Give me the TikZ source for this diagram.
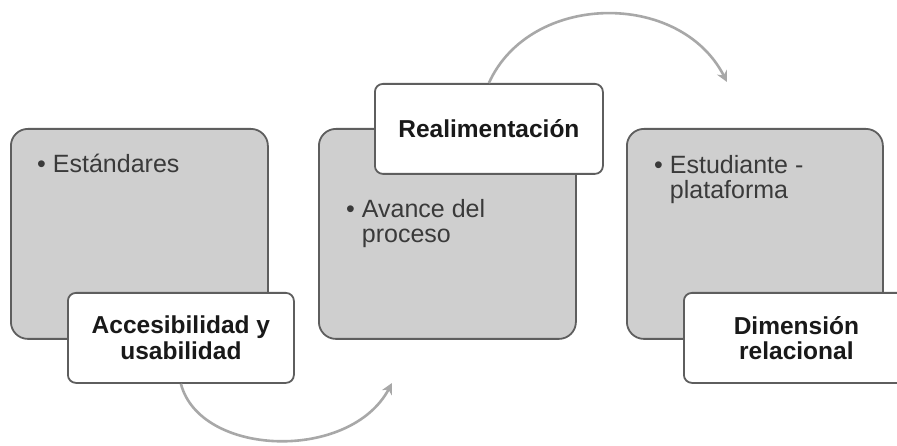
\documentclass[tikz,border=0pt]{standalone}
\usepackage{fontspec}
\setmainfont{Liberation Sans}
\usetikzlibrary{arrows.meta}
\definecolor{boxgray}{HTML}{CFCFCF}
\definecolor{edgegray}{HTML}{5E5E5E}
\definecolor{arcgray}{HTML}{A8A8A8}
\definecolor{txtgray}{HTML}{3A3A3A}
\newcommand{\bul}{•\hspace{7pt}}
\newcommand{\bulgap}{\phantom{•}\hspace{7pt}}
\tikzset{
  graybox/.style={draw=edgegray, line width=1.8pt, fill=boxgray, rounded corners=17pt,
    minimum width=257pt, minimum height=210pt, anchor=north west, inner sep=0pt},
  whitebox/.style={draw=edgegray, line width=1.8pt, fill=white, rounded corners=8pt,
    minimum height=90pt, anchor=north west, inner sep=0pt, align=center,
    font=\fontsize{24.5}{25.5}\selectfont\bfseries, text=black!90},
  bullettext/.style={anchor=base west, inner sep=0pt, align=left,
    font=\fontsize{25}{25}\selectfont, text=txtgray},
  arcline/.style={draw=arcgray, line width=2.6pt, -{Stealth[length=11pt,width=11pt]}}
}
\begin{document}
\begin{tikzpicture}[x=1pt,y=-1pt]
\useasboundingbox (0,0) rectangle (897,446);
\clip (0,0) rectangle (897,446);
\fill[white] (0,0) rectangle (897,446);
% gray boxes
\node[graybox] (g1) at (10,128) {};
\node[graybox] (g2) at (318,128) {};
\node[graybox, minimum width=256pt] (g3) at (626,128) {};
% bullet texts (base anchor = baseline of last line)
\node[bullettext] (t1) at (37,173) {\bul Estándares};
\node[bullettext] (t2) at (346,243) {\bul Avance del\\\bulgap proceso};
\node[bullettext] (t3) at (654,199) {\bul Estudiante -\\\bulgap plataforma};
% white boxes
\node[whitebox, minimum width=226pt] (w1) at (67,292) {Accesibilidad y\\usabilidad};
\node[whitebox, minimum width=228pt] (w2) at (374,83) {Realimentación};
\node[whitebox, minimum width=225pt] (w3) at (683,292) {Dimensión\\relacional};
% arcs
\coordinate (e1) at (392,383);
\coordinate (e2) at (727,82);
\draw[arcline] (w1.south) .. controls (200,457) and (350,462) .. (e1);
\draw[arcline] (w2.north) .. controls (530,-8) and (680,-10) .. (e2);
\end{tikzpicture}
\end{document}
